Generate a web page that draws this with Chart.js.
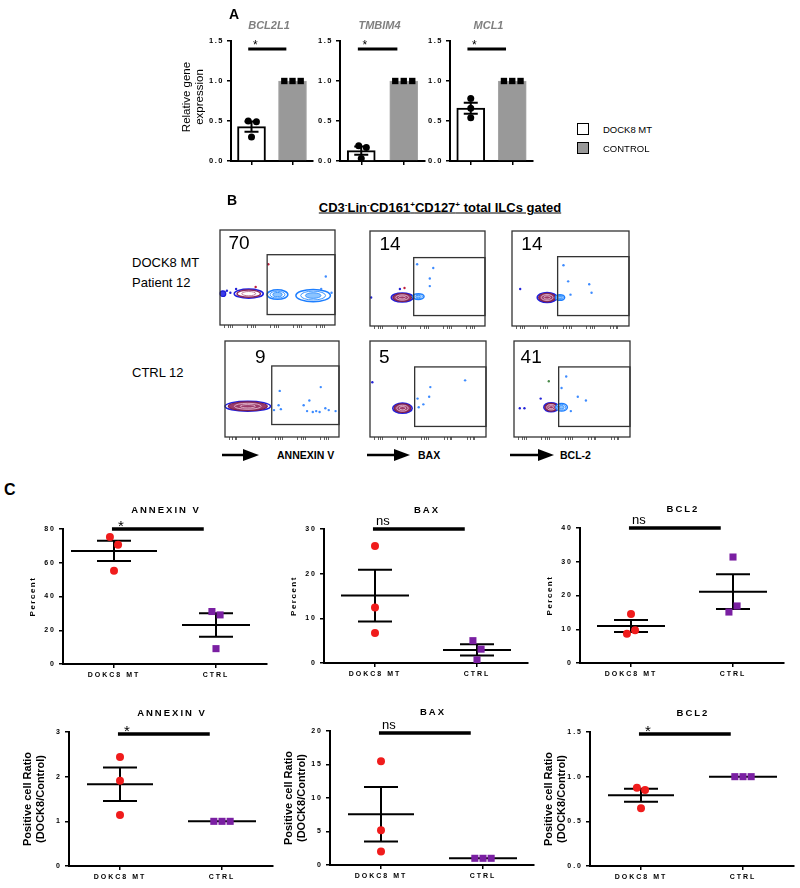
<!DOCTYPE html>
<html>
<head>
<meta charset="utf-8">
<title>DOCK8 ILC apoptosis</title>
<script src="https://cdn.jsdelivr.net/npm/chart.js@4.4.1/dist/chart.umd.min.js"></script>
<style>
  body { margin: 0; width: 800px; height: 888px; position: relative; overflow: hidden; background: #fff;
         font-family: Arial, "Liberation Sans", sans-serif; color: #000; }
  canvas { position: absolute; }
  .txt { position: absolute; white-space: nowrap; line-height: 1; transform: translate(0, -50%); }
  .mid { transform: translate(-50%, -50%); }
  .key { position: absolute; width: 10px; height: 10px; border: 1.5px solid #000; }
  sup { font-size: 62%; vertical-align: 0.55em; line-height: 0; }
  svg { position: absolute; left: 0; top: 0; }
</style>
</head>
<body>
<svg width="800" height="888">
  <g stroke="#000" stroke-width="2.5" fill="#000">
    <line x1="222" y1="455" x2="246" y2="455"/><polygon points="243,449 259,455 243,461" stroke="none"/>
    <line x1="367" y1="455" x2="397" y2="455"/><polygon points="394,449 410,455 394,461" stroke="none"/>
    <line x1="510" y1="455" x2="541" y2="455"/><polygon points="538,449 554,455 538,461" stroke="none"/>
  </g>
</svg>
<script>
'use strict';

// ---- panel A: relative gene expression
var genes = ['BCL2L1', 'TMBIM4', 'MCL1'];
var geneMt = [[0.50, 0.49, 0.30], [0.19, 0.17, 0.03], [0.78, 0.66, 0.54]];
var geneControl = [1, 1, 1];
var geneTicks = [0, 0.5, 1.0, 1.5];
var geneMtSpread = [[-0.08, 0.12, 0], [-0.06, 0.12, 0], [0, 0, 0]];
var legendNames = ['DOCK8 MT', 'CONTROL'];
var legendColors = ['#ffffff', '#999999'];

// ---- panel B: flow plots (gate %, gates, contour blobs, scattered events)
var flowNumbers = [70, 14, 14, 9, 5, 41];
var flowLabelAt = [[16.5, 85], [17.4, 85], [17, 85], [31, 83], [12.3, 83], [14.8, 83]];
var flowGates = [[41, 11, 100, 74], [38, 11, 100, 72], [39, 11, 100, 73], [41, 13, 100, 74], [38.5, 11, 100, 73], [38.5, 11, 100, 73]];
var flowTicks = [4, 7, 9, 10.5, 24, 27, 29, 30.5, 44, 47, 49, 50.5, 64, 67, 69, 70.5, 84, 87, 89, 90.5];
var flowBlobs = [
  [[2.5, 33, 2.5, 3, 'dk'], [25, 33, 12, 4.5, 'mo'], [50, 32, 9, 5, 'lb'], [81, 31, 15, 6.5, 'lb']],
  [[28, 30, 9, 4.5, 'mt'], [42, 31, 5, 3, 'lb']],
  [[30, 30, 8, 5, 'mt'], [41, 30, 4, 3, 'lb']],
  [[20, 32, 19, 5, 'mt']],
  [[28, 30, 8, 5, 'mt']],
  [[32, 31, 6, 4.5, 'mt'], [41, 31, 5, 4, 'lb']]
];
var flowDots = [
  [[6, 36, 'd'], [9, 34, 'd'], [14, 38, 'd'], [31, 40, 'r'], [42, 64, 'r'], [92, 51, 'b'], [88, 38, 'b'], [97, 34, 'b']],
  [[41, 65, 'b'], [55, 61, 'b'], [52, 50, 'b'], [41, 33, 'b'], [26, 39, 'd'], [1, 30, 'd'], [30, 40, 'r'], [52, 42, 'b']],
  [[44, 64, 'b'], [48, 47, 'b'], [66, 44, 'b'], [68, 35, 'b'], [7, 39, 'd'], [50, 33, 'b']],
  [[43, 28, 'b'], [47, 33, 'b'], [49, 29, 'b'], [69, 33, 'b'], [72, 27, 'b'], [77, 26, 'b'], [80, 27, 'b'], [88, 30, 'b'],
   [97, 27, 'b'], [48, 48, 'b'], [84, 52, 'b'], [74, 38, 'b'], [83, 26, 'b'], [91, 28, 'b']],
  [[2, 57, 'd'], [82, 59, 'b'], [52, 52, 'b'], [51, 42, 'b'], [41, 40, 'b'], [46, 34, 'b'], [42, 31, 'b']],
  [[45, 63, 'b'], [30, 58, 'g'], [41, 51, 'b'], [55, 42, 'b'], [62, 38, 'b'], [49, 27, 'b'], [5, 30, 'd'], [9, 30, 'd'], [23, 40, 'd']]
];
var dotColors = { b: '#3d8bff', d: '#2323d8', r: '#c02040', g: '#4a8a4a' };

// ---- panel C: percent and ratio dot plots
var groups = ['DOKC8 MT', 'CTRL'];
var markers = ['ANNEXIN V', 'BAX', 'BCL2'];
var pctMt = [[75.2, 70.7, 55.2], [26.2, 12.4, 6.7], [14.5, 9.7, 8.7]];
var pctCtrl = [[31.1, 29.1, 9.1], [5.0, 3.1, 0.7], [31.4, 16.9, 15.1]];
var pctTicks = [[0, 20, 40, 60, 80], [0, 10, 20, 30], [0, 10, 20, 30, 40]];
var pctSig = ['*', 'ns', 'ns'];
var ratioMt = [[2.44, 1.91, 1.14], [15.5, 5.2, 2.0], [0.877, 0.85, 0.646]];
var ratioCtrl = [[1, 1, 1], [1, 1, 1], [1, 1, 1]];
var ratioTicks = [[0, 1, 2, 3], [0, 5, 10, 15, 20], [0, 0.5, 1.0, 1.5]];
var ratioSig = ['*', 'ns', '*'];
var pctMtSpread = [[-0.04, 0.04, 0], [0, 0, 0], [0, 0.04, -0.04]];
var pctCtrlSpread = [[-0.04, 0.04, 0], [-0.04, 0.04, 0], [0, 0.04, -0.04]];
var ratioMtSpread = [[0, 0, 0], [0, 0, 0], [-0.04, 0.04, 0]];
var ratioCtrlSpread = [[-0.08, 0, 0.08], [-0.08, 0, 0.08], [-0.08, 0, 0.08]];

var FONT = 'Arial, "Liberation Sans", sans-serif';
Chart.defaults.font.family = FONT;
Chart.defaults.color = '#000';

var mean = function (a) {
    return a.reduce(function (s, v) { return s + v; }, 0) / a.length;
};
var sem = function (a) {
    var m = mean(a);
    var ss = a.reduce(function (s, v) { return s + (v - m) * (v - m); }, 0);
    return Math.sqrt(ss / (a.length - 1)) / Math.sqrt(a.length);
};

// canvas whose chart area lands exactly on `area` (page px)
var makeCanvas = function (area, pad) {
    var c = document.createElement('canvas');
    var w = area.r - area.l + pad.l + pad.r;
    var h = area.b - area.t + pad.t + pad.b;
    c.width = w;
    c.height = h;
    c.style.left = (area.l - pad.l) + 'px';
    c.style.top = (area.t - pad.t) + 'px';
    c.style.width = w + 'px';
    c.style.height = h + 'px';
    document.body.appendChild(c);
    return c;
};

var addText = function (html, x, y, css, center) {
    var d = document.createElement('div');
    d.className = center ? 'txt mid' : 'txt';
    d.innerHTML = html;
    d.style.cssText = 'left:' + x + 'px;top:' + y + 'px;' + css;
    document.body.appendChild(d);
};

var xAxis = function (padB, showLabels) {
    return {
        type: 'linear', min: -0.5, max: 1.5, offset: false,
        afterBuildTicks: function (s) { s.ticks = [{ value: 0 }, { value: 1 }]; },
        afterFit: function (s) { s.height = padB; },
        ticks: {
            display: showLabels, autoSkip: false, maxRotation: 0, padding: 3, color: '#000',
            font: { size: 7, weight: 'bold' },
            callback: function (v) { return groups[v]; }
        },
        grid: { drawOnChartArea: false, drawTicks: true, tickLength: 4, color: '#000', lineWidth: 1.5, offset: false },
        border: { display: true, color: '#000', width: 2 }
    };
};

var yAxis = function (ticks, padL, font) {
    var oneDecimal = ticks.some(function (v) { return v % 1 !== 0; });
    return {
        min: 0, max: ticks[ticks.length - 1],
        afterBuildTicks: function (s) { s.ticks = ticks.map(function (v) { return { value: v }; }); },
        afterFit: function (s) { s.width = padL; },
        ticks: {
            font: font, color: '#000', padding: 3, autoSkip: false,
            callback: function (v) { return oneDecimal ? v.toFixed(1) : String(v); }
        },
        grid: { drawOnChartArea: false, drawTicks: true, tickLength: 4, color: '#000', lineWidth: 1.5 },
        border: { display: true, color: '#000', width: 2 }
    };
};

var line = function (ctx, x0, y0, x1, y1) {
    ctx.moveTo(x0, y0);
    ctx.lineTo(x1, y1);
};

// ---------------- panel A
var genePlugin = function (k) {
    return {
        id: 'gene' + k,
        beforeDraw: function (chart) { chart.ctx.letterSpacing = '1.5px'; },
        afterDatasetsDraw: function (chart) {
            var ctx = chart.ctx, x = chart.scales.x, y = chart.scales.y, a = chart.chartArea;
            var pts = geneMt[k], m = mean(pts), e = sem(pts), cx = x.getPixelForValue(0);
            ctx.save();
            ctx.letterSpacing = '0px';
            ctx.strokeStyle = '#000';
            ctx.lineWidth = 2;
            ctx.beginPath();
            line(ctx, cx - 7, y.getPixelForValue(m + e), cx + 7, y.getPixelForValue(m + e));
            line(ctx, cx - 7, y.getPixelForValue(m - e), cx + 7, y.getPixelForValue(m - e));
            line(ctx, cx, y.getPixelForValue(m + e), cx, y.getPixelForValue(m - e));
            ctx.stroke();

            // significance bar
            var sy = y.getPixelForValue(1.4), x0 = x.getPixelForValue(-0.08), x1 = x.getPixelForValue(0.85);
            ctx.lineWidth = 3;
            ctx.beginPath();
            line(ctx, x0, sy, x1, sy);
            ctx.stroke();
            ctx.fillStyle = '#000';
            ctx.textAlign = 'center';
            ctx.textBaseline = 'alphabetic';
            ctx.font = '12px ' + FONT;
            ctx.fillText('*', x0 + 7, sy);

            ctx.font = 'italic bold 11px ' + FONT;
            ctx.fillStyle = '#7f7f7f';
            ctx.textBaseline = 'middle';
            ctx.fillText(genes[k], (a.left + a.right) / 2 - 3, a.top - 15);

            if (k === 0) {
                ctx.fillStyle = '#000';
                ctx.font = '11.5px ' + FONT;
                ctx.translate(a.left, (a.top + a.bottom) / 2 - 4);
                ctx.rotate(-Math.PI / 2);
                ctx.fillText('Relative gene', 0, -44);
                ctx.fillText('expression', 0, -31);
            }
            ctx.restore();
        },
        afterDraw: function (chart) { chart.ctx.letterSpacing = '0px'; }
    };
};

var geneChart = function (k, area, padL) {
    var pad = { l: padL, t: 40, r: 6, b: 12 };
    var c = makeCanvas(area, pad);
    var pts = geneMt[k];
    new Chart(c, {
        type: 'bar',
        data: {
            datasets: [
                {
                    type: 'bar', order: 2, barThickness: 28,
                    data: [{ x: 0, y: mean(pts) }, { x: 1, y: mean(geneControl) }],
                    backgroundColor: [legendColors[0], legendColors[1]],
                    borderColor: ['#000', '#a6a6a6'],
                    borderWidth: [2, 1]
                },
                {
                    type: 'scatter', order: 1, pointStyle: 'circle', radius: 3.5,
                    backgroundColor: '#000', borderWidth: 0,
                    data: pts.map(function (v, j) { return { x: geneMtSpread[k][j], y: v }; })
                },
                {
                    type: 'scatter', order: 1, pointStyle: 'rect', radius: 4.5,
                    backgroundColor: '#000', borderWidth: 0,
                    data: geneControl.map(function (v, j) { return { x: 1 + [-0.2, 0, 0.2][j], y: v }; })
                }
            ]
        },
        options: {
            responsive: false, animation: false,
            layout: { padding: { left: 0, top: pad.t, right: pad.r, bottom: 0 } },
            plugins: { legend: { display: false }, tooltip: { enabled: false } },
            scales: {
                x: xAxis(pad.b, false),
                y: yAxis(geneTicks, pad.l, { size: 7.5, weight: 'bold' })
            }
        },
        plugins: [genePlugin(k)]
    });
};

geneChart(0, { l: 231, t: 41, r: 313, b: 161 }, 52);
geneChart(1, { l: 340, t: 41, r: 425, b: 161 }, 30);
geneChart(2, { l: 450, t: 41, r: 533, b: 161 }, 30);

legendNames.forEach(function (name, i) {
    var d = document.createElement('div');
    d.className = 'key';
    d.style.left = '577px';
    d.style.top = (123 + i * 19) + 'px';
    d.style.background = legendColors[i];
    document.body.appendChild(d);
    addText(name, 603, 130 + i * 19, 'font-size:9.5px', false);
});

// ---------------- panel B
var ring = function (ctx, cx, cy, rx, ry, s, stroke, fill, lw) {
    ctx.beginPath();
    ctx.ellipse(cx, cy, rx * s, ry * s, 0, 0, Math.PI * 2);
    if (fill) { ctx.fillStyle = fill; ctx.fill(); }
    if (stroke) { ctx.strokeStyle = stroke; ctx.lineWidth = lw; ctx.stroke(); }
};

var drawBlob = function (ctx, cx, cy, rx, ry, kind) {
    if (kind === 'dk') {
        ring(ctx, cx, cy, rx, ry, 1, '#1b1bd8', '#3a3ae8', 1.2);
    } else if (kind === 'lb') {
        ring(ctx, cx, cy, rx, ry, 1, '#1e7fff', '#ffffff', 1.5);
        ring(ctx, cx, cy, rx, ry, 0.72, '#3a95ff', null, 1);
        ring(ctx, cx, cy, rx, ry, 0.45, '#3a95ff', '#8cc4ff', 1);
    } else if (kind === 'mo') {
        ring(ctx, cx, cy, rx, ry, 1.05, '#2020e0', null, 1.6);
        ring(ctx, cx, cy, rx, ry, 0.85, '#8e2a5c', '#ffffff', 1.4);
        ring(ctx, cx, cy, rx, ry, 0.5, '#b0577f', null, 0.8);
    } else {
        ring(ctx, cx, cy, rx, ry, 1.05, '#2020e0', null, 1.6);
        ring(ctx, cx, cy, rx, ry, 0.9, '#7d1f4d', '#9b3b6b', 1.2);
        ring(ctx, cx, cy, rx, ry, 0.62, '#e9c6d8', null, 0.8);
        ring(ctx, cx, cy, rx, ry, 0.35, '#e9c6d8', null, 0.8);
    }
};

var flowPlugin = function (k) {
    return {
        id: 'flow' + k,
        beforeDatasetsDraw: function (chart) {
            var ctx = chart.ctx, x = chart.scales.x, y = chart.scales.y;
            ctx.save();
            flowBlobs[k].forEach(function (b) {
                var cx = x.getPixelForValue(b[0]), cy = y.getPixelForValue(b[1]);
                var rx = x.getPixelForValue(b[0] + b[2]) - cx;
                var ry = cy - y.getPixelForValue(b[1] + b[3]);
                drawBlob(ctx, cx, cy, rx, ry, b[4]);
            });
            ctx.restore();
        },
        afterDatasetsDraw: function (chart) {
            var ctx = chart.ctx, x = chart.scales.x, y = chart.scales.y, a = chart.chartArea;
            var g = flowGates[k];
            ctx.save();
            ctx.strokeStyle = '#333';
            ctx.lineWidth = 1.3;
            ctx.strokeRect(a.left, a.top, a.width, a.height);
            var gx0 = x.getPixelForValue(g[0]), gy0 = y.getPixelForValue(g[3]);
            ctx.strokeRect(gx0, gy0, x.getPixelForValue(g[2]) - gx0, y.getPixelForValue(g[1]) - gy0);
            ctx.fillStyle = '#000';
            ctx.font = '19px ' + FONT;
            ctx.textAlign = 'center';
            ctx.textBaseline = 'middle';
            ctx.fillText(String(flowNumbers[k]), x.getPixelForValue(flowLabelAt[k][0]), y.getPixelForValue(flowLabelAt[k][1]));
            ctx.restore();
        }
    };
};

var flowChart = function (k, area) {
    var pad = { l: 1, t: 1, r: 1, b: 4 };
    var c = makeCanvas(area, pad);
    new Chart(c, {
        type: 'scatter',
        data: {
            datasets: [{
                data: flowDots[k].map(function (d) { return { x: d[0], y: d[1] }; }),
                pointBackgroundColor: flowDots[k].map(function (d) { return dotColors[d[2]]; }),
                radius: 1.2, borderWidth: 0
            }]
        },
        options: {
            responsive: false, animation: false,
            layout: { padding: { left: pad.l, top: pad.t, right: pad.r, bottom: 0 } },
            plugins: { legend: { display: false }, tooltip: { enabled: false } },
            scales: {
                x: {
                    type: 'linear', min: 0, max: 100,
                    afterBuildTicks: function (s) { s.ticks = flowTicks.map(function (v) { return { value: v }; }); },
                    afterFit: function (s) { s.height = pad.b; },
                    ticks: { display: false },
                    grid: { drawOnChartArea: false, drawTicks: true, tickLength: 3, color: '#666', lineWidth: 1 },
                    border: { display: false }
                },
                y: { display: false, min: 0, max: 100 }
            }
        },
        plugins: [flowPlugin(k)]
    });
};

flowChart(0, { l: 217, t: 227, r: 338, b: 325 });
flowChart(1, { l: 367, t: 228, r: 488, b: 326 });
flowChart(2, { l: 509, t: 228, r: 632, b: 326 });
flowChart(3, { l: 222, t: 338, r: 342, b: 437 });
flowChart(4, { l: 367, t: 338, r: 489, b: 437 });
flowChart(5, { l: 511, t: 338, r: 633, b: 437 });

// ---------------- panel C
var dotPlugin = function (o) {
    return {
        id: 'dots',
        beforeDraw: function (chart) { chart.ctx.letterSpacing = '2px'; },
        beforeDatasetsDraw: function (chart) {
            var ctx = chart.ctx, x = chart.scales.x, y = chart.scales.y;
            ctx.save();
            ctx.strokeStyle = '#000';
            ctx.lineWidth = 2;
            [o.mt, o.ctrl].forEach(function (g, i) {
                var cx = x.getPixelForValue(i), m = mean(g), e = sem(g), hw = o.meanHalf[i];
                var ym = y.getPixelForValue(m), yu = y.getPixelForValue(m + e), yl = y.getPixelForValue(m - e);
                ctx.beginPath();
                line(ctx, cx - hw, ym, cx + hw, ym);
                if (e > 0) {
                    line(ctx, cx - 17, yu, cx + 17, yu);
                    line(ctx, cx - 17, yl, cx + 17, yl);
                    line(ctx, cx, yu, cx, yl);
                }
                ctx.stroke();
            });
            ctx.restore();
        },
        afterDatasetsDraw: function (chart) {
            var ctx = chart.ctx, x = chart.scales.x, y = chart.scales.y, a = chart.chartArea;
            var sy = y.getPixelForValue(o.sigAt), x0 = x.getPixelForValue(-0.02), x1 = x.getPixelForValue(0.88);
            ctx.save();
            ctx.strokeStyle = '#000';
            ctx.fillStyle = '#000';
            ctx.lineWidth = 3.5;
            ctx.beginPath();
            line(ctx, x0, sy, x1, sy);
            ctx.stroke();

            ctx.letterSpacing = '0px';
            ctx.textAlign = 'center';
            ctx.textBaseline = 'alphabetic';
            if (o.sig === '*') {
                ctx.font = '15px ' + FONT;
                ctx.fillText('*', x0 + 9, sy + 1.5);
            } else {
                ctx.font = '13px ' + FONT;
                ctx.fillText('ns', x0 + 10, sy - 4.5);
            }

            ctx.letterSpacing = '2px';
            ctx.font = 'bold 9.5px ' + FONT;
            ctx.textBaseline = 'middle';
            ctx.fillText(o.title, (a.left + a.right) / 2 + 1, a.top - 19);

            ctx.translate(a.left, (a.top + a.bottom) / 2);
            ctx.rotate(-Math.PI / 2);
            if (o.ratio) {
                ctx.letterSpacing = '0px';
                ctx.font = 'bold 11px ' + FONT;
                ctx.fillText('Positive cell Ratio', 0, -41);
                ctx.fillText('(DOCK8/Control)', 0, -28);
            } else {
                ctx.letterSpacing = '1.5px';
                ctx.font = 'bold 8px ' + FONT;
                ctx.fillText('Percent', 0, -30);
            }
            ctx.restore();
        },
        afterDraw: function (chart) { chart.ctx.letterSpacing = '0px'; }
    };
};

var dotChart = function (area, o) {
    var pad = { l: 52, t: 30, r: 8, b: 22 };
    var c = makeCanvas(area, pad);
    new Chart(c, {
        type: 'scatter',
        data: {
            datasets: [
                {
                    pointStyle: 'circle', radius: 4, backgroundColor: '#f01c1c', borderWidth: 0,
                    data: o.mt.map(function (v, j) { return { x: o.mtSpread[j], y: v }; })
                },
                {
                    pointStyle: 'rect', radius: 5, backgroundColor: '#7a1fa2', borderWidth: 0,
                    data: o.ctrl.map(function (v, j) { return { x: 1 + o.ctrlSpread[j], y: v }; })
                }
            ]
        },
        options: {
            responsive: false, animation: false,
            layout: { padding: { left: 0, top: pad.t, right: pad.r, bottom: 0 } },
            plugins: { legend: { display: false }, tooltip: { enabled: false } },
            scales: {
                x: xAxis(pad.b, true),
                y: yAxis(o.ticks, pad.l, { size: 7, weight: 'bold' })
            }
        },
        plugins: [dotPlugin(o)]
    });
};

var topAreas = [{ l: 63, t: 529, r: 267, b: 664 }, { l: 324, t: 529, r: 528, b: 663 }, { l: 580, t: 528, r: 784, b: 663 }];
var bottomAreas = [{ l: 69, t: 732, r: 273, b: 866 }, { l: 330, t: 731, r: 534, b: 865 }, { l: 590, t: 732, r: 794, b: 866 }];

markers.forEach(function (name, i) {
    var pTop = pctTicks[i][pctTicks[i].length - 1];
    dotChart(topAreas[i], {
        title: name, ratio: false, ticks: pctTicks[i],
        mt: pctMt[i], ctrl: pctCtrl[i], mtSpread: pctMtSpread[i], ctrlSpread: pctCtrlSpread[i],
        meanHalf: [i === 0 ? 43 : 34, 34], sig: pctSig[i], sigAt: pTop
    });
    var rTop = ratioTicks[i][ratioTicks[i].length - 1];
    dotChart(bottomAreas[i], {
        title: name, ratio: true, ticks: ratioTicks[i],
        mt: ratioMt[i], ctrl: ratioCtrl[i], mtSpread: ratioMtSpread[i], ctrlSpread: ratioCtrlSpread[i],
        meanHalf: [33, 34], sig: ratioSig[i], sigAt: rTop * 0.985
    });
});

// ---------------- labels
addText('A', 229, 14, 'font-weight:bold;font-size:14px', false);
addText('B', 227, 200, 'font-weight:bold;font-size:14px', false);
addText('C', 4, 490, 'font-weight:bold;font-size:16px', false);
addText('CD3<sup>-</sup>Lin<sup>-</sup>CD161<sup>+</sup>CD127<sup>+</sup> total ILCs gated', 440, 207,
    'font-weight:bold;font-size:13px;text-decoration:underline', true);
addText('DOCK8 MT', 132, 262, 'font-size:13px', false);
addText('Patient 12', 132, 282, 'font-size:13px', false);
addText('CTRL 12', 132, 372, 'font-size:13px', false);
addText('ANNEXIN V', 277, 455, 'font-weight:bold;font-size:10.5px', false);
addText('BAX', 418, 455, 'font-weight:bold;font-size:10.5px', false);
addText('BCL-2', 560, 455, 'font-weight:bold;font-size:10.5px', false);
</script>
</body>
</html>
